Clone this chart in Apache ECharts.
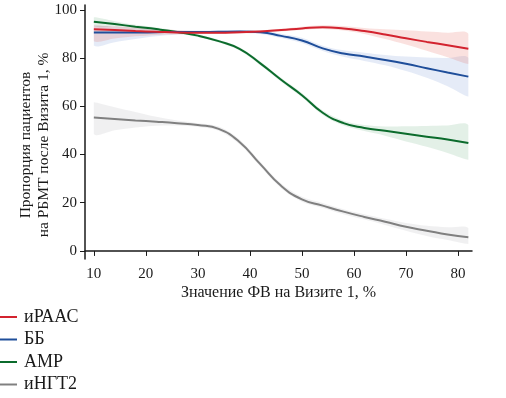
<!DOCTYPE html>
<html>
<head>
<meta charset="utf-8">
<script src="https://cdn.jsdelivr.net/npm/echarts@6/dist/echarts.min.js"></script>
<style>
  html, body { margin: 0; padding: 0; background: #fff; }
  #chart { width: 506px; height: 398px; }
</style>
</head>
<body>
<div id="chart"></div>
<script>
// значения ФВ на Визите 1
var xs = [10, 14, 18, 22, 26, 30, 34, 38, 42, 46, 50, 54, 58, 62, 66, 70, 74, 78, 82];
var xTicks = [10, 20, 30, 40, 50, 60, 70, 80];
var yTicks = [0, 20, 40, 60, 80, 100];
var names = ['иРААС', 'ББ', 'АМР', 'иНГТ2'];

// иРААС
var raas   = [91.9, 91.6, 91.2, 90.9, 90.6, 90.5, 90.5, 90.7, 91.0, 91.6, 92.3, 92.8, 92.3, 91.2, 89.8, 88.2, 86.7, 85.3, 83.9];
var raasLo = [87.0, 88.1, 89.0, 89.6, 89.9, 90.0, 90.0, 90.2, 90.5, 91.0, 91.6, 92.0, 91.4, 90.0, 87.9, 85.6, 83.0, 80.3, 77.5];
var raasHi = [93.5, 93.1, 92.7, 92.1, 91.5, 91.1, 91.0, 91.2, 91.6, 92.2, 93.0, 93.6, 93.3, 92.5, 91.9, 91.5, 91.0, 90.5, 90.1];
// ББ
var bb     = [90.6, 90.6, 90.6, 90.7, 90.8, 90.8, 90.9, 91.0, 90.7, 89.2, 87.3, 84.0, 81.9, 80.6, 79.2, 77.6, 75.8, 74.0, 72.3];
var bbLo   = [85.2, 86.6, 87.9, 89.0, 89.8, 90.2, 90.3, 90.4, 90.0, 88.3, 86.2, 82.9, 80.5, 78.8, 77.0, 74.6, 71.8, 68.3, 64.0];
var bbHi   = [93.5, 93.0, 92.4, 91.9, 91.5, 91.4, 91.5, 91.6, 91.4, 90.1, 88.4, 85.1, 83.2, 82.2, 81.3, 80.6, 80.2, 80.0, 80.0];
// АМР
var amr    = [95.1, 94.1, 93.0, 92.0, 90.8, 89.3, 87.0, 83.8, 77.8, 71.0, 64.6, 57.3, 53.0, 51.0, 49.8, 48.6, 47.4, 46.2, 44.8];
var amrLo  = [93.3, 92.9, 92.2, 91.3, 90.2, 88.7, 86.4, 83.1, 77.0, 70.2, 63.7, 56.4, 52.0, 49.7, 47.8, 45.4, 43.2, 40.6, 37.8];
var amrHi  = [96.9, 95.3, 93.8, 92.7, 91.4, 89.9, 87.6, 84.5, 78.6, 71.8, 65.5, 58.2, 54.0, 52.2, 51.6, 51.7, 51.8, 52.0, 52.1];
// иНГТ2
var ngt    = [55.3, 54.7, 54.1, 53.6, 53.0, 52.2, 50.6, 45.2, 36.0, 27.0, 21.4, 18.8, 16.3, 14.1, 12.1, 10.0, 8.4, 6.8, 5.7];
var ngtLo  = [48.5, 50.0, 51.2, 51.9, 52.0, 51.4, 49.8, 44.2, 35.0, 26.0, 20.4, 17.8, 15.2, 13.0, 10.8, 8.4, 6.2, 4.5, 2.9];
var ngtHi  = [61.7, 59.6, 57.6, 55.6, 54.1, 53.0, 51.6, 46.2, 37.0, 28.0, 22.5, 19.9, 17.3, 15.2, 13.3, 11.6, 10.4, 9.8, 9.5];

var colors = ['#d3232f', '#1f4e9a', '#0b6b2c', '#808080'];
var bandColors = ['rgba(230,90,80,0.18)', 'rgba(70,110,200,0.14)', 'rgba(40,140,70,0.13)', 'rgba(140,140,150,0.13)'];
var font = 'Liberation Serif';

var lines = [raas, bb, amr, ngt];
var lows = [raasLo, bbLo, amrLo, ngtLo];
var highs = [raasHi, bbHi, amrHi, ngtHi];

var myChart = echarts.init(document.getElementById('chart'));

function bandSeries(k) {
    var data = xs.map(function (x, i) { return [x, lows[k][i], highs[k][i]]; });
    return {
        type: 'custom',
        name: names[k] + ' ДИ',
        silent: true,
        z: 1,
        data: data,
        encode: { x: 0, y: [1, 2] },
        renderItem: function (params, api) {
            if (params.dataIndex !== 0) return;
            var pts = [];
            data.forEach(function (d) { pts.push(api.coord([d[0], d[2]])); });
            for (var i = data.length - 1; i >= 0; i--) {
                pts.push(api.coord([data[i][0], data[i][1]]));
            }
            var minX = Infinity, minY = Infinity, maxX = -Infinity, maxY = -Infinity;
            pts.forEach(function (p) {
                minX = Math.min(minX, p[0]); maxX = Math.max(maxX, p[0]);
                minY = Math.min(minY, p[1]); maxY = Math.max(maxY, p[1]);
            });
            return {
                type: 'polygon',
                shape: { points: pts, smooth: 0.35, smoothConstraint: [[minX, minY], [maxX, maxY]] },
                style: { fill: bandColors[k], stroke: null }
            };
        }
    };
}

function lineSeries(k) {
    return {
        type: 'line',
        name: names[k],
        data: xs.map(function (x, i) { return [x, lines[k][i]]; }),
        smooth: 0.5,
        showSymbol: false,
        z: 3,
        lineStyle: { color: colors[k], width: 2 },
        itemStyle: { color: colors[k] }
    };
}

var series = [];
for (var k = 3; k >= 0; k--) series.push(bandSeries(k));
for (var k = 3; k >= 0; k--) series.push(lineSeries(k));

option = {
    animation: false,
    grid: { left: 85, right: 34, top: 5, bottom: 139, outerBoundsMode: 'none' },
    legend: {
        orient: 'vertical',
        left: 0,
        top: 308,
        padding: 0,
        itemWidth: 17,
        itemHeight: 2,
        itemGap: 4.5,
        icon: 'rect',
        data: names,
        textStyle: { fontFamily: font, fontSize: 18, lineHeight: 17, color: '#1a1a1a', padding: [0, 0, 0, 2] }
    },
    xAxis: {
        type: 'value',
        min: 8.3,
        max: 82.7,
        name: 'Значение ФВ на Визите 1, %',
        nameLocation: 'middle',
        nameGap: 26,
        nameMoveOverlap: false,
        nameTextStyle: { fontFamily: font, fontSize: 16, color: '#1a1a1a' },
        splitLine: { show: false },
        axisLine: { lineStyle: { color: '#1a1a1a', width: 1.5 } },
        axisTick: { customValues: xTicks, length: 5, lineStyle: { color: '#1a1a1a' } },
        axisLabel: { customValues: xTicks, fontFamily: font, fontSize: 15, color: '#1a1a1a', margin: 8 }
    },
    yAxis: {
        type: 'value',
        min: -3.35,
        max: 102,
        name: 'Пропорция пациентов\nна РБМТ после Визита 1, %',
        nameLocation: 'middle',
        nameGap: 32,
        nameMoveOverlap: false,
        nameTextStyle: { fontFamily: font, fontSize: 15.5, color: '#1a1a1a', lineHeight: 18, padding: [0, 26, 0, 0] },
        splitLine: { show: false },
        axisLine: { show: true, lineStyle: { color: '#1a1a1a', width: 1.5 } },
        axisTick: { show: true, customValues: yTicks, length: 5, lineStyle: { color: '#1a1a1a' } },
        axisLabel: { customValues: yTicks, fontFamily: font, fontSize: 15, color: '#1a1a1a', margin: 8 }
    },
    series: series
};

myChart.setOption(option);
</script>
</body>
</html>
